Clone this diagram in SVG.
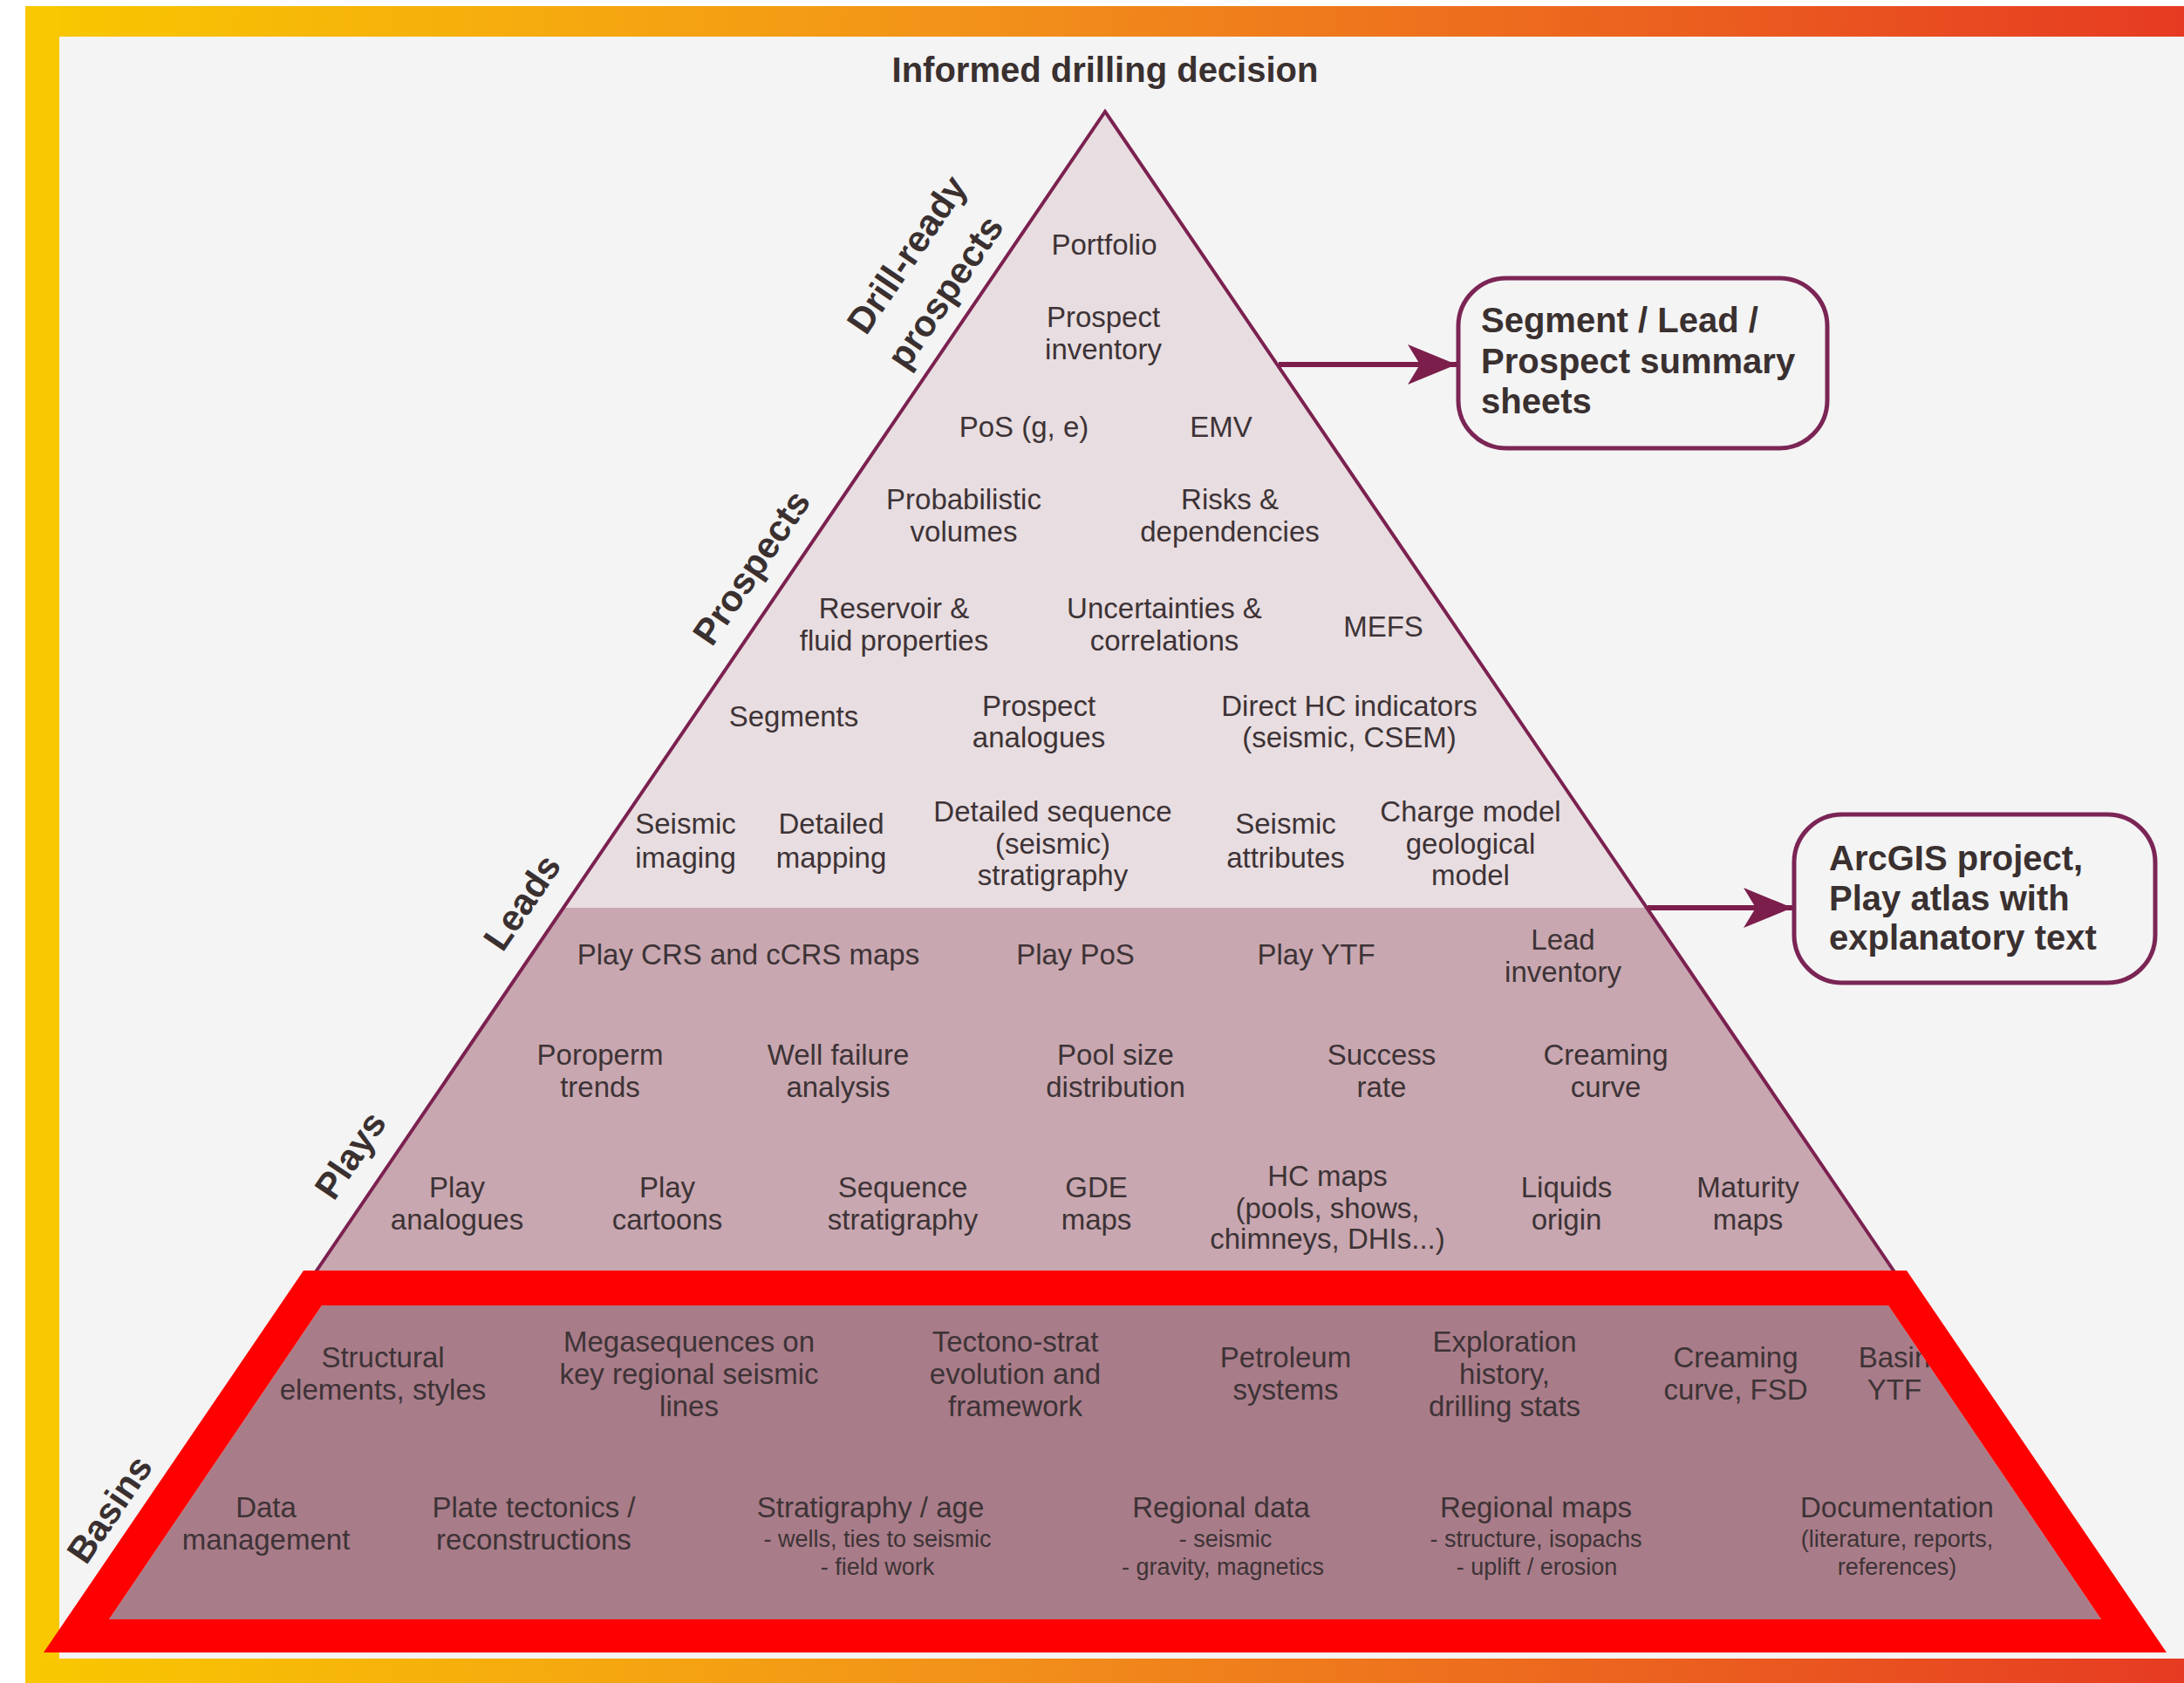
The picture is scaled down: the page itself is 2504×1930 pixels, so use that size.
<svg xmlns="http://www.w3.org/2000/svg" width="2504" height="1930" viewBox="0 0 2504 1930">
<style>
.t{font-family:"Liberation Sans",Arial,sans-serif;font-size:33px;fill:#3d3336;text-anchor:middle}
.s{font-size:27px}
.bx{font-family:"Liberation Sans",Arial,sans-serif;font-size:40px;font-weight:bold;fill:#3a3030}
.lab{font-family:"Liberation Sans",Arial,sans-serif;font-size:42px;font-weight:bold;fill:#3a3030;text-anchor:middle}
.box{fill:#f4f4f4;stroke:#7b2555;stroke-width:5}
.conn{stroke:#7b1e4b;stroke-width:6;fill:none}
</style>
<defs>
<linearGradient id="bar" x1="29" y1="0" x2="2504" y2="0" gradientUnits="userSpaceOnUse">
<stop offset="0" stop-color="#f9c800"/>
<stop offset="0.45" stop-color="#f2901a"/>
<stop offset="1" stop-color="#e63b22"/>
</linearGradient>
<marker id="ah" viewBox="0 0 56 46" refX="56" refY="23" markerWidth="56" markerHeight="46" markerUnits="userSpaceOnUse" orient="auto">
<path d="M0,0 L56,23 L0,46 L14,23 Z" fill="#7b1e4b"/>
</marker>
</defs>
<rect x="0" y="0" width="2504" height="1930" fill="#ffffff"/>
<rect x="68" y="42" width="2436" height="1860" fill="#f4f4f4"/>
<rect x="29" y="7" width="2475" height="35" fill="url(#bar)"/>
<rect x="29" y="7" width="39" height="1923" fill="#f9c800"/>
<rect x="29" y="1902" width="2475" height="28" fill="url(#bar)"/>

<g id="title"><text class="t" x="1267" y="94" style="font-size:40px;font-weight:bold;fill:#3a3030">Informed drilling decision</text></g>

<g id="pyramid">
<polygon points="1267,128 1888,1041 646,1041" fill="#e8dde0"/>
<polygon points="646,1041 1888,1041 2173,1460 361,1460" fill="#c8a7b0"/>
<polyline points="361,1460 1267,128 2173,1460" fill="none" stroke="#7b2150" stroke-width="4"/>
</g>

<g id="labels">
<g transform="translate(1040,292) rotate(-55.7)"><text class="lab" x="0" y="14">Drill-ready</text></g>
<g transform="translate(1084,335) rotate(-55.7)"><text class="lab" x="0" y="14">prospects</text></g>
<g transform="translate(862,651) rotate(-55.7)"><text class="lab" x="0" y="14">Prospects</text></g>
<g transform="translate(599,1035) rotate(-55.7)"><text class="lab" x="0" y="14">Leads</text></g>
<g transform="translate(402,1325) rotate(-55.7)"><text class="lab" x="0" y="14">Plays</text></g>
<g transform="translate(126,1731) rotate(-55.7)"><text class="lab" x="0" y="14">Basins</text></g>
</g>

<g id="drill-ready">
<text class="t" x="1266" y="292">Portfolio</text>
<text class="t"><tspan x="1265" y="375">Prospect</tspan><tspan x="1265" y="412">inventory</tspan></text>
</g>

<g id="prospects">
<text class="t" x="1174" y="501">PoS (g, e)</text>
<text class="t" x="1400" y="501">EMV</text>
<text class="t"><tspan x="1105" y="584">Probabilistic</tspan><tspan x="1105" y="621">volumes</tspan></text>
<text class="t"><tspan x="1410" y="584">Risks &amp;</tspan><tspan x="1410" y="621">dependencies</tspan></text>
<text class="t"><tspan x="1025" y="709">Reservoir &amp;</tspan><tspan x="1025" y="746">fluid properties</tspan></text>
<text class="t"><tspan x="1335" y="709">Uncertainties &amp;</tspan><tspan x="1335" y="746">correlations</tspan></text>
<text class="t" x="1586" y="730">MEFS</text>
</g>

<g id="leads">
<text class="t" x="910" y="833">Segments</text>
<text class="t"><tspan x="1191" y="821">Prospect</tspan><tspan x="1191" y="857">analogues</tspan></text>
<text class="t"><tspan x="1547" y="821">Direct HC indicators</tspan><tspan x="1547" y="857">(seismic, CSEM)</tspan></text>
<text class="t"><tspan x="786" y="956">Seismic</tspan><tspan x="786" y="995">imaging</tspan></text>
<text class="t"><tspan x="953" y="956">Detailed</tspan><tspan x="953" y="995">mapping</tspan></text>
<text class="t"><tspan x="1207" y="942">Detailed sequence</tspan><tspan x="1207" y="979">(seismic)</tspan><tspan x="1207" y="1015">stratigraphy</tspan></text>
<text class="t"><tspan x="1474" y="956">Seismic</tspan><tspan x="1474" y="995">attributes</tspan></text>
<text class="t"><tspan x="1686" y="942">Charge model</tspan><tspan x="1686" y="979">geological</tspan><tspan x="1686" y="1015">model</tspan></text>
</g>

<g id="plays">
<text class="t" x="858" y="1106">Play CRS and cCRS maps</text>
<text class="t" x="1233" y="1106">Play PoS</text>
<text class="t" x="1509" y="1106">Play YTF</text>
<text class="t"><tspan x="1792" y="1089">Lead</tspan><tspan x="1792" y="1126">inventory</tspan></text>
<text class="t"><tspan x="688" y="1221">Poroperm</tspan><tspan x="688" y="1258">trends</tspan></text>
<text class="t"><tspan x="961" y="1221">Well failure</tspan><tspan x="961" y="1258">analysis</tspan></text>
<text class="t"><tspan x="1279" y="1221">Pool size</tspan><tspan x="1279" y="1258">distribution</tspan></text>
<text class="t"><tspan x="1584" y="1221">Success</tspan><tspan x="1584" y="1258">rate</tspan></text>
<text class="t"><tspan x="1841" y="1221">Creaming</tspan><tspan x="1841" y="1258">curve</tspan></text>
<text class="t"><tspan x="524" y="1373">Play</tspan><tspan x="524" y="1410">analogues</tspan></text>
<text class="t"><tspan x="765" y="1373">Play</tspan><tspan x="765" y="1410">cartoons</tspan></text>
<text class="t"><tspan x="1035" y="1373">Sequence</tspan><tspan x="1035" y="1410">stratigraphy</tspan></text>
<text class="t"><tspan x="1257" y="1373">GDE</tspan><tspan x="1257" y="1410">maps</tspan></text>
<text class="t"><tspan x="1522" y="1360">HC maps</tspan><tspan x="1522" y="1397">(pools, shows,</tspan><tspan x="1522" y="1432">chimneys, DHIs...)</tspan></text>
<text class="t"><tspan x="1796" y="1373">Liquids</tspan><tspan x="1796" y="1410">origin</tspan></text>
<text class="t"><tspan x="2004" y="1373">Maturity</tspan><tspan x="2004" y="1410">maps</tspan></text>
</g>

<g id="basins">
<polygon points="369,1497 2165,1497 2409,1857 125,1857" fill="#a97c89"/>
<text class="t"><tspan x="439" y="1568">Structural</tspan><tspan x="439" y="1605">elements, styles</tspan></text>
<text class="t"><tspan x="790" y="1550">Megasequences on</tspan><tspan x="790" y="1587">key regional seismic</tspan><tspan x="790" y="1624">lines</tspan></text>
<text class="t"><tspan x="1164" y="1550">Tectono-strat</tspan><tspan x="1164" y="1587">evolution and</tspan><tspan x="1164" y="1624">framework</tspan></text>
<text class="t"><tspan x="1474" y="1568">Petroleum</tspan><tspan x="1474" y="1605">systems</tspan></text>
<text class="t"><tspan x="1725" y="1550">Exploration</tspan><tspan x="1725" y="1587">history,</tspan><tspan x="1725" y="1624">drilling stats</tspan></text>
<text class="t"><tspan x="1990" y="1568">Creaming</tspan><tspan x="1990" y="1605">curve, FSD</tspan></text>
<text class="t"><tspan x="2172" y="1568">Basin</tspan><tspan x="2172" y="1605">YTF</tspan></text>
<text class="t"><tspan x="305" y="1740">Data</tspan><tspan x="305" y="1777">management</tspan></text>
<text class="t"><tspan x="612" y="1740">Plate tectonics /</tspan><tspan x="612" y="1777">reconstructions</tspan></text>
<text class="t"><tspan x="998" y="1740">Stratigraphy / age</tspan><tspan class="s" x="1006" y="1774">- wells, ties to seismic</tspan><tspan class="s" x="1006" y="1806">- field work</tspan></text>
<text class="t"><tspan x="1400" y="1740">Regional data</tspan><tspan class="s" x="1405" y="1774">- seismic</tspan><tspan class="s" x="1402" y="1806">- gravity, magnetics</tspan></text>
<text class="t"><tspan x="1761" y="1740">Regional maps</tspan><tspan class="s" x="1761" y="1774">- structure, isopachs</tspan><tspan class="s" x="1762" y="1806">- uplift / erosion</tspan></text>
<text class="t"><tspan x="2175" y="1740">Documentation</tspan><tspan class="s" x="2175" y="1774">(literature, reports,</tspan><tspan class="s" x="2175" y="1806">references)</tspan></text>
<path d="M348,1457 L2186,1457 L2484,1895 L50,1895 Z M369,1497 L2165,1497 L2409,1857 L125,1857 Z" fill="#ff0000" fill-rule="evenodd"/>
</g>

<g id="summary-sheets">
<rect class="box" x="1672" y="319" width="423" height="195" rx="55"/>
<text class="bx"><tspan x="1698" y="381">Segment / Lead /</tspan><tspan x="1698" y="428">Prospect summary</tspan><tspan x="1698" y="474">sheets</tspan></text>
</g>

<g id="arcgis">
<rect class="box" x="2057" y="934" width="414" height="193" rx="55"/>
<text class="bx"><tspan x="2097" y="998">ArcGIS project,</tspan><tspan x="2097" y="1044">Play atlas with</tspan><tspan x="2097" y="1089">explanatory text</tspan></text>
</g>

<g id="connectors">
<line class="conn" x1="1466" y1="418" x2="1670" y2="418" marker-end="url(#ah)"/>
<line class="conn" x1="1889" y1="1041" x2="2055" y2="1041" marker-end="url(#ah)"/>
</g>
</svg>
